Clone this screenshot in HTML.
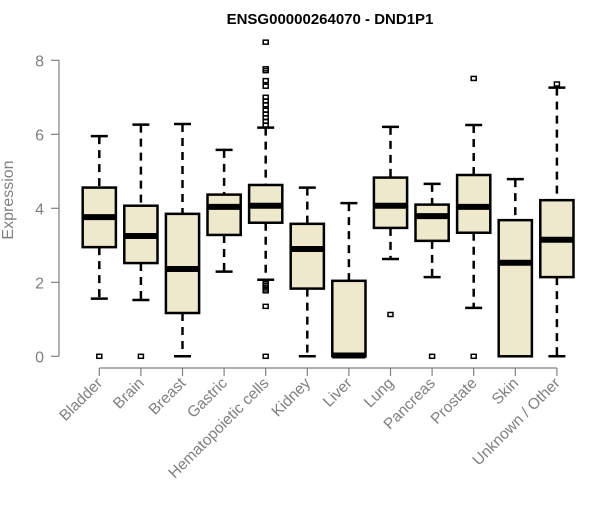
<!DOCTYPE html>
<html><head><meta charset="utf-8"><style>
body{margin:0;background:#fff}
svg text{font-family:"Liberation Sans",Arial,sans-serif}
</style></head><body>
<svg id="chart" width="600" height="500" xmlns="http://www.w3.org/2000/svg">
<text x="330" y="24" text-anchor="middle" font-weight="bold" font-size="15" fill="#000">ENSG00000264070 - DND1P1</text>
<text transform="translate(13,200) rotate(-90)" text-anchor="middle" font-size="16" fill="#808080">Expression</text>
<g id="yaxis"></g>
<g id="xaxis"></g>
<g id="boxes"></g>
</svg>
<script>
const categories=["Bladder","Brain","Breast","Gastric","Hematopoietic cells","Kidney","Liver","Lung","Pancreas","Prostate","Skin","Unknown / Other"];
const lowerWhisker=[1.56,1.52,0,2.29,2.07,0,0,2.63,2.14,1.31,0,0];
const q1=[2.95,2.52,1.17,3.28,3.61,1.83,0,3.47,3.12,3.34,0,2.14];
const medians=[3.76,3.25,2.36,4.04,4.07,2.9,0.02,4.07,3.79,4.04,2.53,3.15];
const q3=[4.56,4.07,3.85,4.37,4.63,3.58,2.04,4.83,4.1,4.9,3.68,4.22];
const upperWhisker=[5.95,6.26,6.28,5.58,6.18,4.56,4.14,6.2,4.66,6.25,4.79,7.26];
const outliers=[[0],[0],[],[],[8.49,7.77,7.72,7.45,7.3,7.0,6.9,6.8,6.65,6.55,6.45,6.35,6.25,1.97,1.92,1.87,1.82,1.77,1.35,0],[],[],[1.13],[0],[7.51,0],[],[7.36]];
const yTicks=[0,2,4,6,8];
const NS="http://www.w3.org/2000/svg";
const y=v=>356.3-v*37;
const x=i=>99.3+i*41.6;
function mk(tag,attrs,parent){const e=document.createElementNS(NS,tag);for(const k in attrs)e.setAttribute(k,attrs[k]);parent.appendChild(e);return e;}
const ya=document.getElementById('yaxis'),xa=document.getElementById('xaxis'),bx=document.getElementById('boxes');
let l=mk('line',{x1:59,x2:59,y1:y(8),y2:y(0),stroke:'#808080','stroke-width':1.2},ya);

yTicks.forEach(t=>{
 let tk=mk('line',{x1:51,x2:59,y1:y(t),y2:y(t),stroke:'#808080','stroke-width':1.2},ya);
 
 let tx=mk('text',{x:44,y:y(t)+6,'text-anchor':'end','font-size':16,fill:'#808080'},ya);
 tx.textContent=t;
 
});
let xl=mk('line',{x1:x(0),x2:x(categories.length-1),y1:368,y2:368,stroke:'#808080','stroke-width':1.2},xa);

categories.forEach((c,i)=>{
 const cx=x(i);
 let tk=mk('line',{x1:cx,x2:cx,y1:368,y2:376,stroke:'#808080','stroke-width':1.2},xa);
 
 let tx=mk('text',{transform:`translate(${cx+4},${384}) rotate(-45)`,'text-anchor':'end','font-size':15.5,fill:'#808080'},xa);
 tx.textContent=c;
 
 const g=mk('g',{},bx);
 
 
 const hw=16.6,cw=8.5;
 mk('line',{x1:cx,x2:cx,y1:y(upperWhisker[i]),y2:y(q3[i]),stroke:'#000','stroke-width':2.5,'stroke-dasharray':'8,6'},g);
 mk('line',{x1:cx,x2:cx,y1:y(q1[i]),y2:y(lowerWhisker[i]),stroke:'#000','stroke-width':2.5,'stroke-dasharray':'8,6'},g);
 mk('line',{x1:cx-cw,x2:cx+cw,y1:y(upperWhisker[i]),y2:y(upperWhisker[i]),stroke:'#000','stroke-width':2.5},g);
 mk('line',{x1:cx-cw,x2:cx+cw,y1:y(lowerWhisker[i]),y2:y(lowerWhisker[i]),stroke:'#000','stroke-width':2.5},g);
 mk('rect',{x:cx-hw,y:y(q3[i]),width:hw*2,height:Math.max(0,y(q1[i])-y(q3[i])),fill:'#EEE8CD',stroke:'#000','stroke-width':2.5},g);
 mk('line',{x1:cx-hw,x2:cx+hw,y1:y(medians[i]),y2:y(medians[i]),stroke:'#000','stroke-width':6},g);
 outliers[i].forEach(o=>{mk('rect',{x:cx-2.5,y:y(o)-2,width:5,height:4,fill:'none',stroke:'#000','stroke-width':1.5},g);});
});
</script>
</body></html>
